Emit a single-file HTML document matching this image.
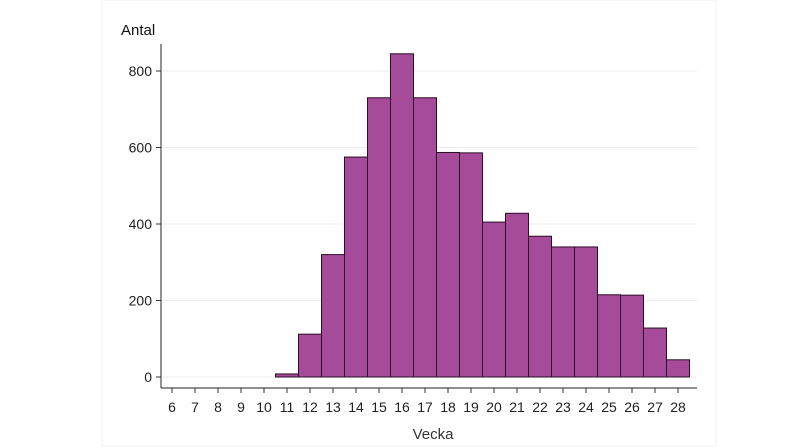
<!DOCTYPE html>
<html><head><meta charset="utf-8"><style>
body{margin:0;background:#fff;}
svg{display:block;font-family:"Liberation Sans",sans-serif;}
</style></head><body>
<svg id="chart" width="800" height="448">
<rect x="102" y="0" width="614" height="446" fill="none" stroke="#f2f2f2"/>
<g id="grid"></g><g id="bars"></g><g id="axes"></g>
<text x="121" y="35" font-size="15" fill="#111">Antal</text>
<text x="433" y="439" font-size="15" fill="#333" text-anchor="middle">Vecka</text>
</svg>
<script>
const weeks=[11,12,13,14,15,16,17,18,19,20,21,22,23,24,25,26,27,28];
const counts=[8,112,320,575,730,845,730,587,586,405,428,368,340,340,215,214,128,45];
const xTicks=[6,7,8,9,10,11,12,13,14,15,16,17,18,19,20,21,22,23,24,25,26,27,28];
const yTicks=[0,200,400,600,800];
const NS="http://www.w3.org/2000/svg";
const x=w=>172+(w-6)*23;
const y=v=>377-v*306/800;
function mk(tag,attrs,parent){const e=document.createElementNS(NS,tag);for(const k in attrs)e.setAttribute(k,attrs[k]);parent.appendChild(e);return e;}
const grid=document.getElementById('grid'),bars=document.getElementById('bars'),axes=document.getElementById('axes');
yTicks.forEach(t=>{
 const g=mk('line',{x1:162,x2:697,y1:y(t),y2:y(t),stroke:'#ececec'},grid);
 
 
 const tk=mk('line',{x1:156,x2:161,y1:y(t),y2:y(t),stroke:'#333'},axes);
 
 
 const l=mk('text',{x:152,y:y(t)+5,'font-size':14,'text-anchor':'end',fill:'#222'},axes);
 l.textContent=t;
 
 
});
weeks.forEach((w,i)=>{
 const r=mk('rect',{x:x(w)-11.5,y:y(counts[i]),width:23,height:377-y(counts[i]),fill:'#a64a9a',stroke:'#2a0f27','stroke-width':1},bars);
 
 
});
const ya=mk('line',{x1:161,x2:161,y1:44,y2:388,stroke:'#222'},axes);


const xa=mk('line',{x1:161,x2:697,y1:388,y2:388,stroke:'#222'},axes);


xTicks.forEach(t=>{
 const tk=mk('line',{x1:x(t),x2:x(t),y1:388,y2:393,stroke:'#333'},axes);
 
 
 const l=mk('text',{x:x(t),y:412,'font-size':14,'text-anchor':'middle',fill:'#222'},axes);
 l.textContent=t;
 
 
});
</script>
</body></html>
